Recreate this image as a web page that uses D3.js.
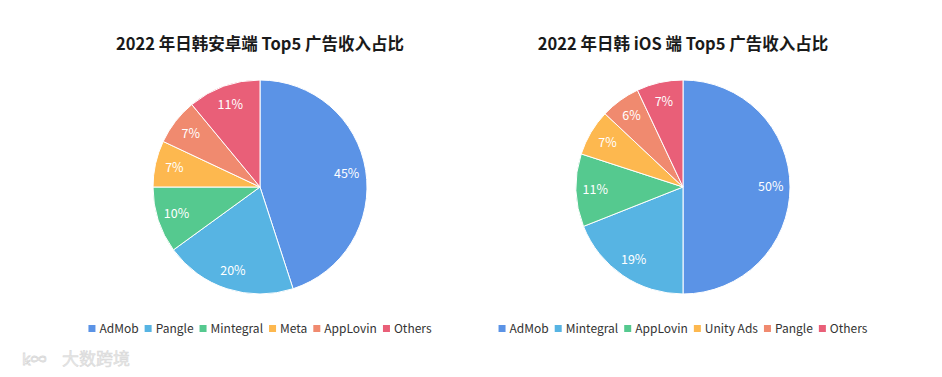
<!DOCTYPE html>
<html><head><meta charset="utf-8">
<script src="https://cdn.jsdelivr.net/npm/d3@7"></script>
<style>
html,body{margin:0;padding:0;background:#fff;}
svg{display:block;font-family:"Noto Sans CJK SC","Noto Sans",sans-serif;}
</style></head>
<body>
<svg id="c" width="942" height="377"></svg>
<script>
const titleA = "2022 年日韩安卓端 Top5 广告收入占比";
const titleB = "2022 年日韩 iOS 端 Top5 广告收入占比";
const catsA = ["AdMob","Pangle","Mintegral","Meta","AppLovin","Others"];
const valsA = [45,20,10,7,7,11];
const catsB = ["AdMob","Mintegral","AppLovin","Unity Ads","Pangle","Others"];
const valsB = [50,19,11,7,6,7];
const colors = ["#5b93e6","#57b4e3","#55c98f","#fdb84f","#f08a6f","#e95f78"];

const svg = d3.select("#c");

function drawPie(cx, title, cats, vals){
  const cy = 187, r = 107;
  const g = svg.append("g");
  g.append("text").attr("x", cx).attr("y", 50).attr("text-anchor","middle")
    .attr("font-size", 16.5).attr("font-weight","bold").attr("fill","#1a1a1a").text(title);
  const data = cats.map((c,i)=>({c, v: vals[i], i}));
  const pie = d3.pie().value(d=>d.v).sort(null);
  const arc = d3.arc().innerRadius(0).outerRadius(r);
  const lab = d3.arc().innerRadius(r*0.82).outerRadius(r*0.82);
  const arcs = pie(data);
  const pg = g.append("g").attr("transform",`translate(${cx},${cy})`);
  pg.selectAll("path").data(arcs).join("path")
    .attr("d", arc).attr("fill", d=>colors[d.data.i])
    .attr("stroke","#fff").attr("stroke-width",1);
  pg.selectAll("text").data(arcs).join("text")
    .attr("transform", d=>`translate(${lab.centroid(d)})`)
    .attr("text-anchor","middle").attr("dy","0.35em")
    .attr("font-size", 12.5).attr("fill","#fff")
    .text(d=>d.data.v+"%");
  // legend
  const lg = g.append("g");
  let x = 0;
  data.forEach(d=>{
    const it = lg.append("g");
    it.append("rect").attr("x", x).attr("y", -4).attr("width",7).attr("height",7).attr("fill", colors[d.i]);
    const t = it.append("text").attr("x", x+11).attr("y", 0).attr("dy","0.35em")
      .attr("font-size", 12).attr("fill","#333").text(d.c);
    x += 11 + t.node().getComputedTextLength() + 6;
  });
  const w = x - 6;
  lg.attr("transform", `translate(${cx - w/2},329)`);
}
drawPie(260, titleA, catsA, valsA);
drawPie(683, titleB, catsB, valsB);

// watermark
svg.append("text").attr("x", 62).attr("y", 365).attr("font-size", 17)
  .attr("fill","#e6e6e6").attr("stroke","#d8d8d8").attr("stroke-width",0.5).text("大数跨境");
svg.append("text").attr("x", 22).attr("y", 365).attr("font-size", 16)
  .attr("fill","none").attr("stroke","#d8d8d8").attr("stroke-width",0.8).text("ꝃ∞");
</script>
</body></html>
